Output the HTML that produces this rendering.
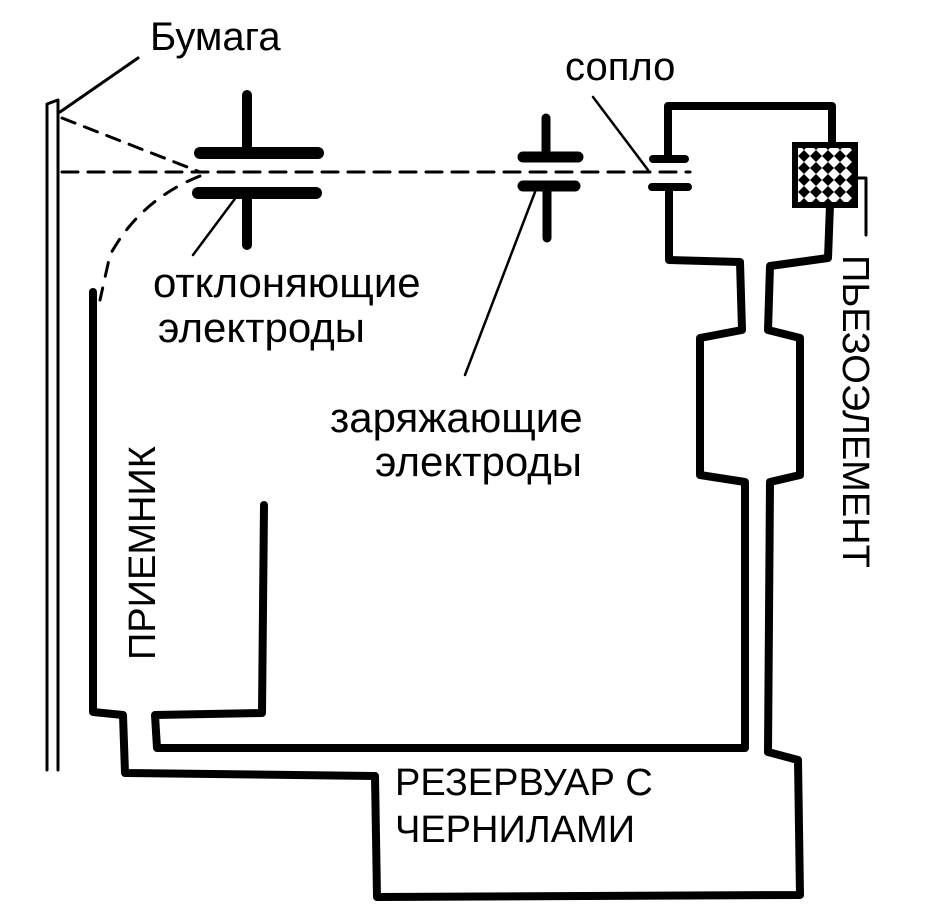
<!DOCTYPE html>
<html><head><meta charset="utf-8"><style>
html,body{margin:0;padding:0;background:#fff;}
svg{display:block;}
text{font-family:"Liberation Sans","DejaVu Sans",sans-serif;fill:#000;}
</style></head><body>
<svg width="929" height="911" viewBox="0 0 929 911" xmlns="http://www.w3.org/2000/svg">
<defs>
<pattern id="hatch" width="12" height="12" patternUnits="userSpaceOnUse">
<rect width="12" height="12" fill="#000"/>
<path d="M0 6 L6 0 L12 6 L6 12 Z" fill="#fff"/>
</pattern>
</defs>
<g fill="none" stroke="#000" stroke-linecap="round" stroke-linejoin="round">
<!-- paper -->
<path d="M47 770 L47 104 L58 100 L58 770" stroke-width="3"/>
<line x1="60" y1="112" x2="138" y2="58" stroke-width="3"/>
<!-- dashed trajectories -->
<path d="M62 118 L200 172" stroke-width="3" stroke-dasharray="14 10"/>
<path d="M62 172 L690 172" stroke-width="3" stroke-dasharray="16 10"/>
<path d="M200 176 Q140 200 110 255 L100 300" stroke-width="3" stroke-dasharray="14 12"/>
<!-- deflecting electrodes -->
<line x1="247" y1="95" x2="247" y2="150" stroke-width="10"/>
<line x1="200" y1="153" x2="318" y2="153" stroke-width="12"/>
<line x1="198" y1="193" x2="316" y2="193" stroke-width="12"/>
<line x1="247" y1="193" x2="247" y2="245" stroke-width="10"/>
<!-- charging electrodes -->
<line x1="546" y1="118" x2="546" y2="155" stroke-width="9"/>
<line x1="523" y1="157" x2="578" y2="157" stroke-width="11"/>
<line x1="523" y1="186" x2="575" y2="186" stroke-width="11"/>
<line x1="547" y1="186" x2="547" y2="238" stroke-width="9"/>
<!-- leaders -->
<line x1="237" y1="196" x2="193" y2="255" stroke-width="2.5"/>
<line x1="535" y1="192" x2="465" y2="375" stroke-width="2.5"/>
<line x1="593" y1="97" x2="648" y2="170" stroke-width="2.5"/>
<!-- nozzle / body -->
<path d="M653 159 L685 159 M668 159 L668 106 L832 106 L832 145" stroke-width="8"/>
<path d="M652 187 L688 187 M669 187 L669 260 L740 262 L742 330 L700 338 L700 475 L745 482 L745 748 L157 748 L155 715 L262 713 L264 505" stroke-width="8"/>
<path d="M830 205 L828 258 L770 266 L768 330 L800 338 L800 475 L770 482 L768 752 L798 760 L800 895 L377 897 L375 776 L125 773 L123 715 L93 712 L93 292" stroke-width="8"/>
<!-- piezo lead -->
<path d="M856 178 L866 178 L866 235" stroke-width="3"/>
</g>
<rect x="795" y="145" width="60" height="60" fill="url(#hatch)" stroke="#000" stroke-width="6"/>
<!-- labels -->
<text x="150" y="50" font-size="40">Бумага</text>
<text x="565" y="80" font-size="40">сопло</text>
<text x="153" y="297" font-size="42">отклоняющие</text>
<text x="158" y="342" font-size="42">электроды</text>
<text x="330" y="432" font-size="42">заряжающие</text>
<text x="375" y="476" font-size="42">электроды</text>
<text x="395" y="795" font-size="38">РЕЗЕРВУАР С</text>
<text x="395" y="842" font-size="38">ЧЕРНИЛАМИ</text>
<text transform="translate(843,255) rotate(90)" font-size="38">ПЬЕЗОЭЛЕМЕНТ</text>
<text transform="translate(155,660) rotate(-90)" font-size="38">ПРИЕМНИК</text>
</svg>
</body></html>
